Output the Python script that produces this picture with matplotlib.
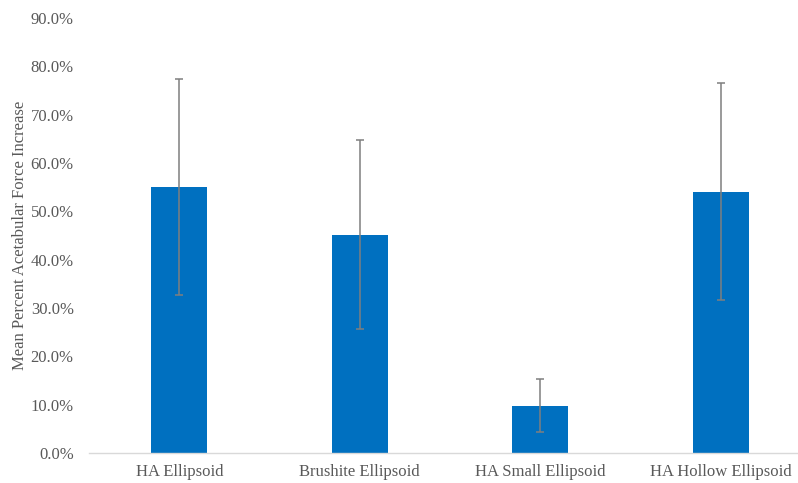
import numpy as np
import matplotlib
matplotlib.use('Agg')
import matplotlib.pyplot as plt
from matplotlib.ticker import FuncFormatter

categories = ['HA Ellipsoid', 'Brushite Ellipsoid', 'HA Small Ellipsoid', 'HA Hollow Ellipsoid']
mean_increase = [55.0, 45.2, 9.8, 54.1]
std_dev = [22.3, 19.5, 5.5, 22.5]

plt.rcParams['font.family'] = ['Liberation Serif', 'DejaVu Serif']
text_color = '#595959'

fig = plt.figure(figsize=(7.98, 4.83), dpi=100)
W, H = 798, 483
# plot area runs a little past the right edge of the figure
left, right, top, bottom = 89, 811, 18, 453
ax = fig.add_axes([left / W, 1 - bottom / H, (right - left) / W, (bottom - top) / H])

x = np.arange(len(categories))
ax.bar(x, mean_increase, width=0.31, color='#0070C0', zorder=2)
ax.errorbar(x, mean_increase, yerr=std_dev, fmt='none', ecolor='#7F7F7F',
            elinewidth=1.1, capsize=3, capthick=1.1, zorder=3)

ax.set_xlim(-0.5, len(categories) - 0.5)
ax.set_ylim(0, 90)
ax.set_yticks(np.arange(0, 91, 10))
ax.yaxis.set_major_formatter(FuncFormatter(lambda v, _: f'{v:.1f}%'))
ax.set_xticks(x)
ax.set_xticklabels(categories)

for s in ['top', 'right', 'left']:
    ax.spines[s].set_visible(False)
ax.spines['bottom'].set_color('#D9D9D9')
ax.spines['bottom'].set_linewidth(1.0)
ax.tick_params(axis='both', length=0, labelsize=12, colors=text_color)
ax.tick_params(axis='y', pad=11)
ax.tick_params(axis='x', pad=8)

ax.set_ylabel('Mean Percent Acetabular Force Increase', fontsize=12, color=text_color, labelpad=2)

fig.savefig('out.png', dpi=100)
